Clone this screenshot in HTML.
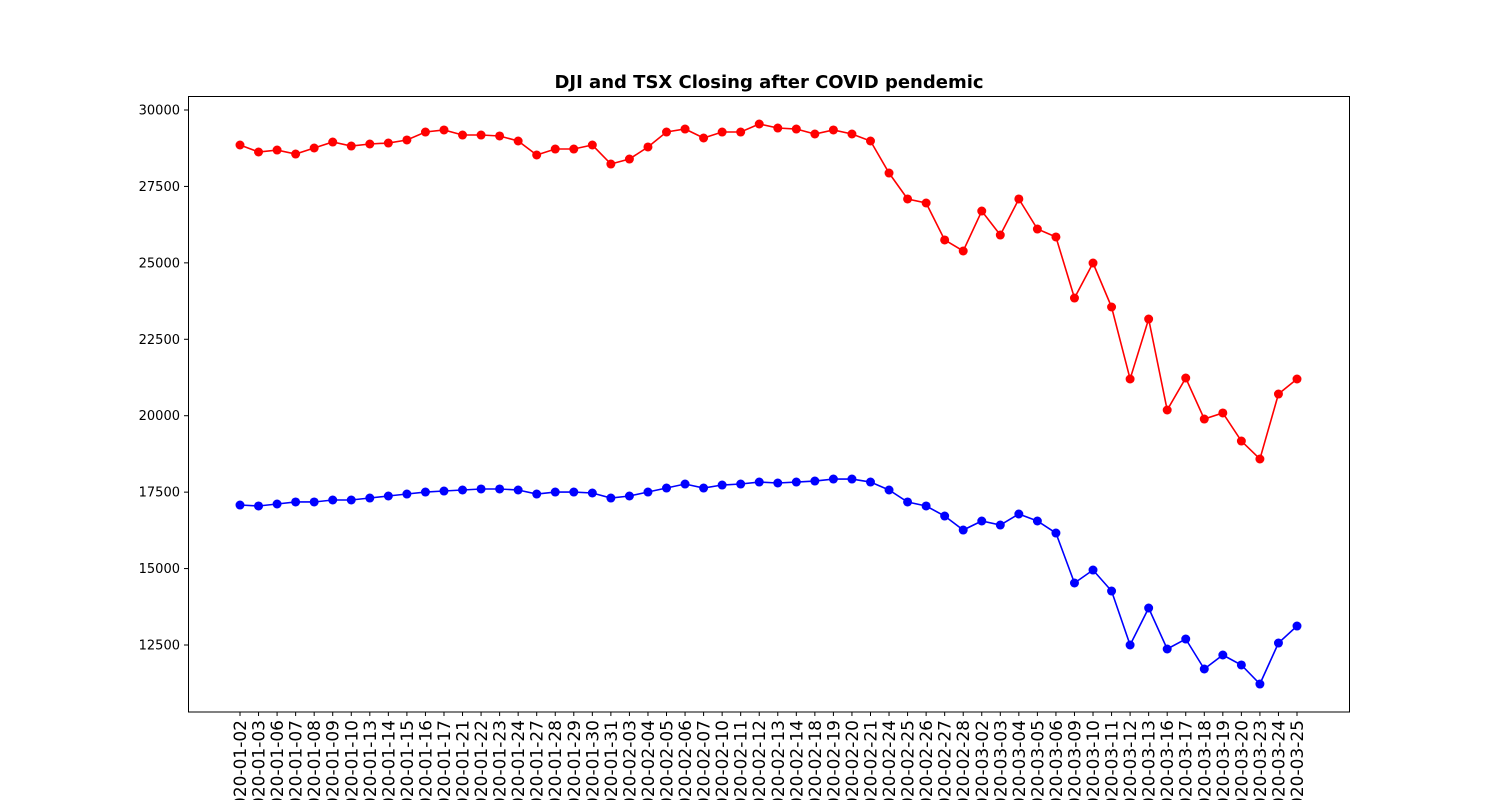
<!DOCTYPE html>
<html><head><meta charset="utf-8"><style>body{margin:0;background:#fff}svg{display:block}</style></head>
<body>
<svg id="chart" width="1500" height="800" xmlns="http://www.w3.org/2000/svg" font-family="DejaVu Sans, Liberation Sans, sans-serif">
<text x="769" y="88" text-anchor="middle" font-size="18" font-weight="bold">DJI and TSX Closing after COVID pendemic</text>
<rect x="188.5" y="96.5" width="1161" height="615.5" fill="none" stroke="#000" stroke-width="1"/>
<g id="axes"></g>
<g id="series"></g>
</svg>
<script>
const dates=["2020-01-02","2020-01-03","2020-01-06","2020-01-07","2020-01-08","2020-01-09","2020-01-10","2020-01-13","2020-01-14","2020-01-15","2020-01-16","2020-01-17","2020-01-21","2020-01-22","2020-01-23","2020-01-24","2020-01-27","2020-01-28","2020-01-29","2020-01-30","2020-01-31","2020-02-03","2020-02-04","2020-02-05","2020-02-06","2020-02-07","2020-02-10","2020-02-11","2020-02-12","2020-02-13","2020-02-14","2020-02-18","2020-02-19","2020-02-20","2020-02-21","2020-02-24","2020-02-25","2020-02-26","2020-02-27","2020-02-28","2020-03-02","2020-03-03","2020-03-04","2020-03-05","2020-03-06","2020-03-09","2020-03-10","2020-03-11","2020-03-12","2020-03-13","2020-03-16","2020-03-17","2020-03-18","2020-03-19","2020-03-20","2020-03-23","2020-03-24","2020-03-25"];
const dji=[28855,28626,28690,28560,28757,28953,28822,28888,28920,29019,29280,29346,29182,29182,29150,28986,28528,28724,28724,28855,28233,28397,28790,29280,29378,29084,29280,29280,29542,29411,29378,29215,29346,29215,28986,27939,27089,26958,25748,25388,26696,25911,27089,26107,25846,23850,24995,23556,21201,23163,20187,21233,19892,20089,19172,18584,20710,21201];
const tsx=[17079,17047,17112,17178,17178,17243,17243,17308,17374,17439,17504,17537,17570,17603,17603,17570,17439,17504,17504,17472,17308,17374,17504,17635,17766,17635,17733,17766,17831,17799,17831,17864,17929,17929,17831,17570,17178,17047,16719,16261,16556,16425,16785,16556,16163,14528,14953,14266,12500,13710,12369,12696,11715,12173,11846,11224,12565,13121];
const yTicks=[12500,15000,17500,20000,22500,25000,27500,30000];
const NS="http://www.w3.org/2000/svg";
const xS=i=>240+i*(1297-240)/(dates.length-1);
const yS=v=>110+(30000-v)*(645-110)/17500;
function mk(t,a,p){const e=document.createElementNS(NS,t);for(const k in a)e.setAttribute(k,a[k]);p.appendChild(e);return e;}
const ax=document.getElementById('axes'),sr=document.getElementById('series');
yTicks.forEach(v=>{const y=yS(v);
const l=mk('line',{x1:184,x2:188,y1:y,y2:y,stroke:'#000'},ax);


const t=mk('text',{x:180,y:y+4.5,'text-anchor':'end','font-size':13},ax);t.textContent=v;

});
dates.forEach((d,i)=>{const x=xS(i);
const l=mk('line',{x1:x,x2:x,y1:712,y2:716,stroke:'#000'},ax);


const t=mk('text',{x:0,y:0,'text-anchor':'end','font-size':17,transform:`translate(${x+6},720) rotate(-90)`},ax);t.textContent=d;

});
[[dji,'red','dji'],[tsx,'blue','tsx']].forEach(([arr,c,n])=>{
const p=mk('polyline',{points:arr.map((v,i)=>xS(i)+','+yS(v)).join(' '),fill:'none',stroke:c,'stroke-width':1.6},sr);


arr.forEach((v,i)=>{const m=mk('circle',{cx:xS(i),cy:yS(v),r:4.5,fill:c},sr);

});});
</script>
</body></html>
